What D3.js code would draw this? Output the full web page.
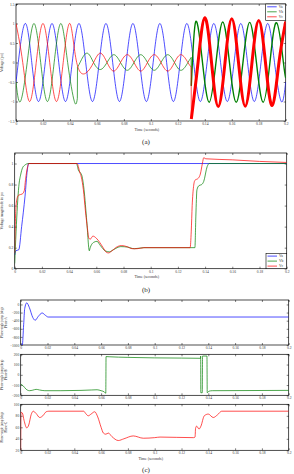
<!DOCTYPE html>
<html>
<head>
<meta charset="utf-8">
<script src="https://cdn.jsdelivr.net/npm/d3@7"></script>
<style>
body { margin: 0; background: #fff; }
text { font-family: "Liberation Serif", "DejaVu Serif", serif; }
</style>
</head>
<body>
<div class="graph"></div>
<script>
// ---------- data ----------
var timeTicks = [0, 0.02, 0.04, 0.06, 0.08, 0.1, 0.12, 0.14, 0.16, 0.18, 0.2];
var seriesNames = ["Va", "Vb", "Vc"];

// (a) instantaneous voltages, pu  [time, value] at peaks / zero crossings
var vaWave = [[0,-0.5],[0.0017,0],[0.0067,1],[0.0117,0],[0.0167,-1],[0.0217,0],[0.0267,1],[0.0317,0],[0.0367,-1],[0.0417,0],
  [0.0467,1],[0.0517,0],[0.0567,-1],[0.0617,0],[0.0667,1],[0.0717,0],[0.0767,-1],[0.0817,0],[0.0867,1],[0.0917,0],
  [0.0967,-1],[0.1017,0],[0.1067,1],[0.1117,0],[0.1167,-1],[0.1217,0],[0.1267,1],[0.1317,0],[0.1367,-1],[0.1417,0],
  [0.1467,1],[0.1517,0],[0.1567,-1],[0.1617,0],[0.1667,1],[0.1717,0],[0.1767,-1],[0.1817,0],[0.1867,1],[0.1917,0],
  [0.1967,-1],[0.2,-0.5]];
var vbPre = [[0,-0.5],[0.0033,-1],[0.0083,0],[0.0133,1],[0.0183,0],[0.0233,-1],[0.0283,0],[0.0333,1],[0.0383,0],[0.0433,-1],[0.0455,-0.92]];
var vbFault = [[0.0456,-0.12],[0.0475,0],[0.0525,0.24],[0.0575,0],[0.0625,-0.18],[0.0675,0],[0.0725,0.2],[0.0775,0],[0.0825,-0.2],
  [0.0875,0],[0.0925,0.2],[0.0975,0],[0.1025,-0.2],[0.1075,0],[0.1125,0.2],[0.1175,0],[0.1225,-0.2],[0.1275,0],[0.1299,0.13]];
var vbPost = [[0.1300,-0.6],[0.1333,1.05],[0.1383,0],[0.1433,-1.02],[0.1483,0],[0.1533,1.04],[0.1583,0],[0.1633,-1.02],[0.1683,0],
  [0.1733,1.03],[0.1783,0],[0.1833,-1.02],[0.1883,0],[0.1933,1.02],[0.1983,0],[0.2,-0.4]];
var vcBefore = [[0,1],[0.005,0],[0.01,-1],[0.015,0],[0.02,1],[0.025,0],[0.03,-1],[0.035,0],[0.04,1],[0.045,0],[0.0519,-0.27],
  [0.0575,0],[0.0625,0.24],[0.0675,0],[0.0725,-0.22],[0.0775,0],[0.0825,0.2],[0.0875,0],[0.0925,-0.22],[0.0975,0],
  [0.1025,0.2],[0.1075,0],[0.1125,-0.22],[0.1175,0],[0.1225,0.2],[0.1275,0],[0.1299,-0.12]];
var vcAfter = [[0.1300,-1.45],[0.135,0],[0.14,1.15],[0.145,0],[0.15,-1.13],[0.155,0],[0.16,1.12],[0.165,0],[0.17,-1.12],
  [0.175,0],[0.18,1.08],[0.185,0],[0.19,-1.1],[0.195,0],[0.2,1.05]];

// (b) voltage magnitude, pu
var magA = [[0,0.13],[0.0008,0.17],[0.003,0.18],[0.0051,0.4],[0.0076,0.69],[0.0093,0.94],[0.0102,1],[0.2,1]];
var magB = [[0,0.05],[0.001,0.35],[0.002,0.6],[0.003,0.78],[0.0045,0.9],[0.0058,0.96],[0.0075,0.985],[0.01,1],[0.0455,1],
  [0.0462,0.97],[0.047,0.93],[0.0485,0.91],[0.0495,0.88],[0.051,0.75],[0.053,0.45],[0.0549,0.17],[0.0553,0.19],[0.058,0.25],
  [0.0605,0.26],[0.063,0.22],[0.0665,0.17],[0.0695,0.16],[0.0725,0.18],[0.078,0.21],[0.083,0.205],[0.088,0.19],[0.095,0.2],
  [0.1325,0.2],[0.1332,0.5],[0.134,0.75],[0.1355,0.79],[0.1375,0.8],[0.139,0.83],[0.1415,0.97],[0.143,1],[0.2,1]];
var magC = [[0,0.15],[0.0005,0.45],[0.001,0.6],[0.002,0.68],[0.003,0.7],[0.0055,0.71],[0.007,0.74],[0.008,0.85],[0.0095,0.97],
  [0.0105,1],[0.046,1],[0.0468,0.97],[0.0478,0.92],[0.049,0.87],[0.0505,0.75],[0.052,0.55],[0.0535,0.38],[0.0545,0.29],
  [0.0555,0.28],[0.0575,0.31],[0.06,0.29],[0.0625,0.25],[0.065,0.2],[0.0675,0.155],[0.069,0.15],[0.0715,0.17],[0.0755,0.21],
  [0.0785,0.22],[0.0825,0.21],[0.0865,0.19],[0.09,0.19],[0.095,0.2],[0.129,0.2],[0.1298,0.35],[0.1305,0.6],[0.1315,0.78],
  [0.1325,0.84],[0.135,0.86],[0.1365,0.9],[0.138,1.0],[0.139,1.055],[0.1405,1.045],[0.16,1.035],[0.18,1.02],[0.2,1.01]];

// (c) phase-angle jump, deg
var jumpA = [[0,-1000],[0.0012,-1000],[0.0022,-500],[0.003,-100],[0.0045,40],[0.0065,-80],[0.009,-320],[0.0108,-390],
  [0.013,-300],[0.016,-210],[0.0185,-270],[0.0205,-310],[0.2,-310]];
var jumpB = [[0,-90],[0.002,-110],[0.004,-140],[0.0065,-155],[0.009,-150],[0.0115,-142],[0.014,-148],[0.018,-155],[0.03,-155],
  [0.045,-152],[0.053,-148],[0.057,-146],[0.06,-155],[0.0625,-168],[0.0635,-180],[0.0637,178],[0.066,176],[0.08,170],
  [0.1,165],[0.12,163],[0.1342,161],[0.1343,183],[0.1344,-175],[0.1355,-175],[0.1357,183],[0.139,183],[0.1392,-175],
  [0.1405,-160],[0.143,-155],[0.2,-152]];
var jumpC = [[0,20],[0.0002,86],[0.0012,85],[0.0025,72],[0.0045,59],[0.006,64],[0.0078,82],[0.0094,88],[0.0115,84],
  [0.0142,77],[0.0165,80],[0.019,87],[0.021,88],[0.047,88],[0.0485,84],[0.0504,80],[0.0525,83],[0.0552,87],[0.0575,78],
  [0.06,60],[0.0617,50],[0.0635,48],[0.0654,50],[0.068,44],[0.0728,37],[0.077,40],[0.084,45],[0.0915,41],[0.1,42],
  [0.104,43],[0.129,42],[0.1301,43],[0.1305,58],[0.1313,62],[0.1331,57],[0.1345,62],[0.137,80],[0.14,83],[0.1437,77],
  [0.147,82],[0.15,88],[0.2,88]];

var ticksA = [-1.5, -1, -0.5, 0, 0.5, 1, 1.5];
var ticksB = [0, 0.2, 0.4, 0.6, 0.8, 1];
var ticksC1 = [-1000, -800, -600, -400, -200, 0];
var ticksC2 = [-200, -100, 0, 100, 200];
var ticksC3 = [20, 40, 60, 80, 100];

var colors = ["#0000ff", "#008000", "#ff0000"];

// ---------- drawing ----------
var width = 294;
var height = 474;

var svg = d3.select(".graph").append("svg")
  .attr("width", width)
  .attr("height", height);

svg.append("rect").attr("width", width).attr("height", height).attr("fill", "#fff");

function panel(box, yDomain, yTicks, yLabel, showTimeLabel) {
    var g = svg.append("g");
    var x = d3.scaleLinear().domain([0, 0.2]).range([box.left, box.right]);
    var y = d3.scaleLinear().domain(yDomain).range([box.bottom, box.top]);

    var bottom = g.append("g").attr("transform", "translate(0," + box.bottom + ")")
        .call(d3.axisBottom(x).tickValues(timeTicks).tickFormat(d3.format("")).tickSize(-2).tickSizeOuter(0).tickPadding(1.5));
    var top = g.append("g").attr("transform", "translate(0," + box.top + ")")
        .call(d3.axisTop(x).tickValues(timeTicks).tickFormat("").tickSize(-2).tickSizeOuter(0));
    var left = g.append("g").attr("transform", "translate(" + box.left + ",0)")
        .call(d3.axisLeft(y).tickValues(yTicks).tickFormat(d3.format("")).tickSize(-2).tickSizeOuter(0).tickPadding(1.5));
    var right = g.append("g").attr("transform", "translate(" + box.right + ",0)")
        .call(d3.axisRight(y).tickValues(yTicks).tickFormat("").tickSize(-2).tickSizeOuter(0));

    [bottom, top, left, right].forEach(function (a) {
        a.select(".domain").remove();
        a.selectAll("line").attr("stroke", "#000").attr("stroke-width", 0.5);
        a.selectAll("text").attr("font-size", 3.6).attr("font-family", "Liberation Serif").attr("fill", "#333");
    });

    g.append("rect")
        .attr("x", box.left).attr("y", box.top)
        .attr("width", box.right - box.left).attr("height", box.bottom - box.top)
        .attr("fill", "none").attr("stroke", "#000").attr("stroke-width", 0.7);

    var cy = (box.top + box.bottom) / 2;
    var fs = yLabel.length > 1 ? 3.2 : 3.8;
    yLabel.forEach(function (t, i) {
        g.append("text")
            .attr("transform", "translate(" + (3.3 + i * 3.4) + "," + cy + ") rotate(-90)")
            .attr("text-anchor", "middle")
            .attr("font-size", fs)
            .attr("fill", "#333")
            .text(t);
    });

    if (showTimeLabel) {
        g.append("text")
            .attr("x", (box.left + box.right) / 2 - 4)
            .attr("y", box.bottom + 9.5)
            .attr("text-anchor", "middle")
            .attr("font-size", 4)
            .attr("fill", "#333")
            .text("Time (seconds)");
    }

    var clipId = "clip" + Math.round(box.top);
    svg.append("clipPath").attr("id", clipId).append("rect")
        .attr("x", box.left).attr("y", box.top)
        .attr("width", box.right - box.left).attr("height", box.bottom - box.top);
    var plot = g.append("g").attr("clip-path", "url(#" + clipId + ")");

    return {x: x, y: y, plot: plot};
}

function drawSegments(p, segs, color, widths, curve) {
    var line = d3.line().x(d => p.x(d[0])).y(d => p.y(d[1])).curve(curve);
    var straight = d3.line().x(d => p.x(d[0])).y(d => p.y(d[1]));
    segs.forEach(function (s, i) {
        if (i > 0) {
            var prev = segs[i - 1];
            p.plot.append("path")
                .attr("d", straight([prev[prev.length - 1], s[0]]))
                .attr("fill", "none").attr("stroke", color).attr("stroke-width", widths[i - 1]);
        }
        p.plot.append("path")
            .attr("d", line(s))
            .attr("fill", "none").attr("stroke", color)
            .attr("stroke-width", widths[i])
            .attr("stroke-linejoin", "round");
    });
}

function legend(x0, y0, w, h) {
    var lg = svg.append("g");
    lg.append("rect").attr("x", x0).attr("y", y0).attr("width", w).attr("height", h)
        .attr("fill", "#fff").attr("stroke", "#000").attr("stroke-width", 0.6);
    seriesNames.forEach(function (n, i) {
        var yy = y0 + 2.8 + i * 5;
        lg.append("line").attr("x1", x0 + 1.5).attr("x2", x0 + 11).attr("y1", yy).attr("y2", yy)
            .attr("stroke", colors[i]).attr("stroke-width", 0.7);
        lg.append("text").attr("x", x0 + 13).attr("y", yy + 1.2).attr("font-size", 3.6).attr("fill", "#333").text(n);
    });
}

function caption(x, y, t) {
    svg.append("text").attr("x", x).attr("y", y).attr("text-anchor", "middle")
        .attr("font-size", 7).attr("fill", "#222").text(t);
}

// (a)
var pa = panel({left: 16, right: 285.7, top: 4, bottom: 121}, [-1.5, 1.5], ticksA, ["Voltage (pu)"], true);
drawSegments(pa, [vaWave], colors[0], [0.7], d3.curveNatural);
drawSegments(pa, [vbPre, vbFault, vbPost], colors[1], [0.7, 0.7, 1.4], d3.curveNatural);
drawSegments(pa, [vcBefore, vcAfter], colors[2], [0.7, 3], d3.curveNatural);
legend(265.7, 4, 20, 16.5);
caption(146, 143.5, "(a)");

// (b)
var pb = panel({left: 14.7, right: 286.7, top: 153, bottom: 268.7}, [0, 1.1], ticksB, ["Voltage magnitude in pu"], true);
[magA, magB, magC].forEach(function (d, i) {
    drawSegments(pb, [d], colors[i], [0.7], d3.curveMonotoneX);
});
legend(266, 253.3, 20.7, 15.4);
caption(146, 291.5, "(b)");

// (c)
var pc1 = panel({left: 20.7, right: 288.7, top: 300, bottom: 345}, [-1000, 110], ticksC1, ["Phase-angle jump (deg)", "Phase-A"], false);
drawSegments(pc1, [jumpA], colors[0], [0.7], d3.curveMonotoneX);
var pc2 = panel({left: 20.7, right: 288.7, top: 354.3, bottom: 395.3}, [-200, 200], ticksC2, ["Phase-angle jump (deg)", "Phase-B"], false);
drawSegments(pc2, [jumpB], colors[1], [0.7], d3.curveMonotoneX);
var pc3 = panel({left: 20.7, right: 288.7, top: 404.3, bottom: 450.3}, [20, 100], ticksC3, ["Phase-angle jump (deg)", "Phase-C"], true);
drawSegments(pc3, [jumpC], colors[2], [0.7], d3.curveMonotoneX);
caption(146, 472, "(c)");
</script>
</body>
</html>
